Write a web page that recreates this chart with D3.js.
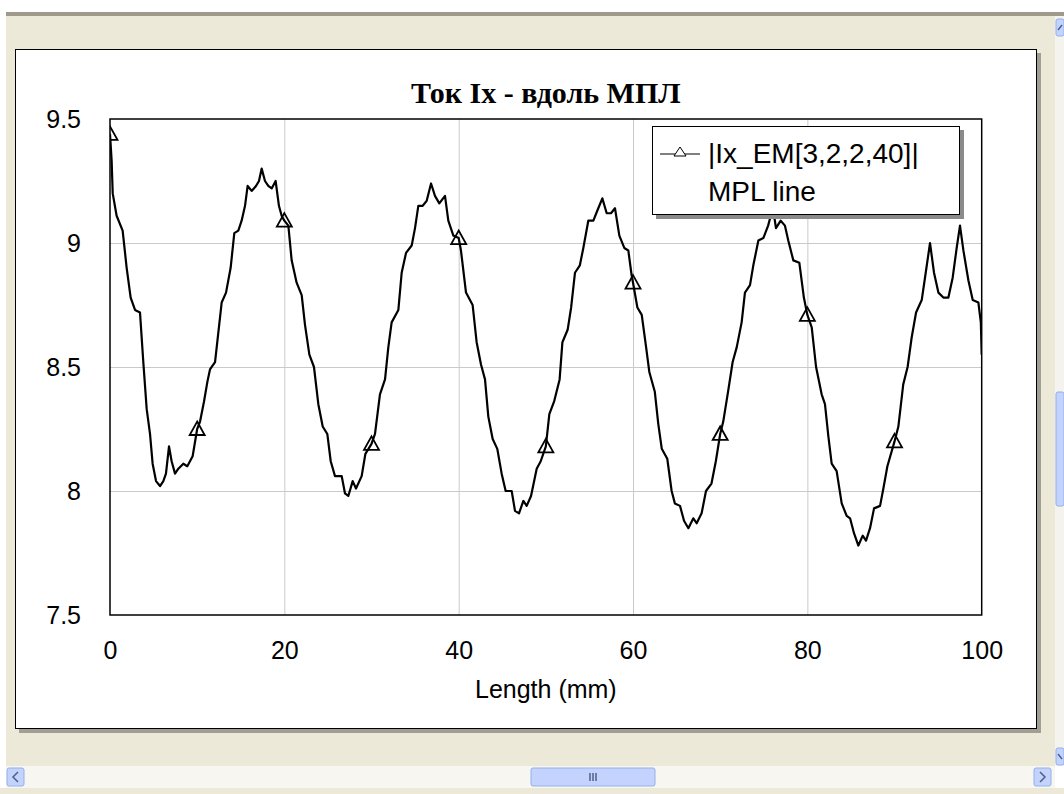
<!DOCTYPE html>
<html>
<head>
<meta charset="utf-8">
<script src="https://cdn.jsdelivr.net/npm/d3@7"></script>
<style>
  body { margin: 0; background: #fff; overflow: hidden; }
  text { font-family: "Liberation Sans", Arial, sans-serif; fill: #000; }
</style>
</head>
<body>
<div id="chart"></div>
<script>
// ---- data ----
const lengthMm = [
  0, 0.19, 0.31, 0.76, 1.45, 1.91, 2.37, 2.87, 3.44, 3.82, 4.21, 4.59, 4.89, 5.28, 5.74, 6.12, 6.42, 6.77, 7.07, 7.46,
  7.84, 8.41, 8.87, 9.48, 10, 10.33, 10.78, 11.17, 11.47, 12.05, 12.43, 12.81, 13.31, 13.84, 14.26, 14.72, 15.1, 15.49, 15.79, 16.25,
  16.75, 17.09, 17.4, 17.78, 18.16, 18.55, 19.0, 19.38, 19.69, 20, 20.46, 20.84, 21.41, 21.99, 22.37, 22.87, 23.4, 23.9, 24.4, 24.93,
  25.32, 25.81, 26.58, 26.96, 27.34, 27.84, 28.22, 28.87, 29.3, 30, 30.4, 30.97, 31.55, 31.93, 32.31, 33.08, 33.46, 33.96, 34.61, 34.99,
  35.37, 35.87, 36.33, 36.83, 37.28, 37.78, 38.43, 38.81, 39.39, 40, 40.26, 40.84, 41.6, 42.06, 42.56, 43.02, 43.4, 43.9, 44.43, 44.93,
  45.39, 46.08, 46.46, 46.92, 47.42, 47.8, 48.3, 48.95, 49.41, 50, 50.4, 50.94, 51.58, 51.9, 52.5, 52.9, 53.34, 53.9, 54.3, 54.87,
  55.45, 55.9, 56.48, 56.98, 57.47, 57.93, 58.43, 59.0, 59.46, 59.84, 60, 60.5, 61.0, 61.5, 61.87, 62.5, 62.9, 63.3, 63.93, 64.43,
  64.8, 65.39, 65.85, 66.35, 66.92, 67.3, 67.87, 68.37, 69.0, 69.5, 70, 70.35, 70.9, 71.43, 71.9, 72.46, 72.84, 73.42, 73.8, 74.38,
  74.95, 75.5, 75.8, 76.1, 76.4, 76.94, 77.43, 77.81, 78.39, 79.08, 79.6, 80, 80.5, 81.0, 81.64, 82.02, 82.41, 82.79, 83.36, 83.94,
  84.51, 84.9, 85.35, 85.85, 86.35, 86.73, 87.19, 87.65, 88.34, 88.72, 89.18, 90, 90.44, 91.0, 91.5, 91.97, 92.47, 93.12, 93.62, 94.07,
  94.53, 95.03, 95.6, 96.18, 96.67, 97.13, 97.51, 97.9, 98.47, 98.97, 99.62, 99.9, 100
];
const currentIx = [
  9.44, 9.33, 9.20, 9.11, 9.05, 8.90, 8.78, 8.73, 8.72, 8.52, 8.33, 8.23, 8.11, 8.04, 8.02, 8.04, 8.07, 8.18, 8.12, 8.07,
  8.09, 8.11, 8.10, 8.14, 8.25, 8.28, 8.36, 8.44, 8.49, 8.52, 8.64, 8.76, 8.80, 8.90, 9.04, 9.05, 9.09, 9.15, 9.23, 9.21,
  9.23, 9.25, 9.30, 9.25, 9.23, 9.22, 9.25, 9.15, 9.11, 9.09, 9.07, 8.93, 8.84, 8.79, 8.67, 8.55, 8.50, 8.35, 8.26, 8.23,
  8.12, 8.06, 8.06, 7.99, 7.98, 8.04, 8.01, 8.06, 8.15, 8.19, 8.23, 8.39, 8.45, 8.58, 8.68, 8.73, 8.88, 8.96, 8.99, 9.06,
  9.15, 9.15, 9.17, 9.24, 9.19, 9.16, 9.19, 9.09, 9.03, 9.02, 8.97, 8.80, 8.75, 8.60, 8.51, 8.45, 8.30, 8.21, 8.17, 8.07,
  8.00, 8.00, 7.92, 7.91, 7.96, 7.94, 7.98, 8.09, 8.12, 8.18, 8.31, 8.36, 8.45, 8.60, 8.65, 8.74, 8.88, 8.91, 8.98, 9.09,
  9.09, 9.13, 9.18, 9.12, 9.12, 9.14, 9.03, 8.98, 8.97, 8.87, 8.84, 8.74, 8.71, 8.58, 8.48, 8.40, 8.27, 8.17, 8.13, 8.00,
  7.95, 7.94, 7.88, 7.85, 7.89, 7.87, 7.91, 8.00, 8.03, 8.12, 8.23, 8.28, 8.40, 8.52, 8.58, 8.68, 8.80, 8.83, 8.91, 9.01,
  9.02, 9.07, 9.11, 9.13, 9.06, 9.09, 9.07, 9.01, 8.93, 8.92, 8.78, 8.71, 8.66, 8.50, 8.39, 8.35, 8.22, 8.11, 8.08, 7.95,
  7.90, 7.89, 7.83, 7.78, 7.82, 7.80, 7.85, 7.93, 7.94, 8.01, 8.10, 8.20, 8.26, 8.43, 8.50, 8.62, 8.72, 8.77, 8.89, 9.00,
  8.88, 8.80, 8.78, 8.78, 8.86, 8.98, 9.07, 8.97, 8.85, 8.77, 8.76, 8.68, 8.55
];
const markerMm = [0, 10, 20, 30, 40, 50, 60, 70, 80, 90];
const markerIx = [9.44, 8.25, 9.09, 8.19, 9.02, 8.18, 8.84, 8.23, 8.71, 8.20];
const xTicks = [0, 20, 40, 60, 80, 100];
const yTicks = [7.5, 8, 8.5, 9, 9.5];
const yTickLabels = ["7.5", "8", "8.5", "9", "9.5"];
const chartTitle = "Ток Ix - вдоль МПЛ";
const xAxisLabel = "Length (mm)";
const legendLines = ["|Ix_EM[3,2,2,40]|", "MPL line"];

// ---- layout ----
const width = 1064, height = 794;
const plot = { left: 110, right: 981.7, top: 119, bottom: 615 };

const svg = d3.select("#chart")
  .append("svg")
  .attr("width", width)
  .attr("height", height);

// window chrome (beige XP style background, scroll bars)
svg.append("rect").attr("width", width).attr("height", height).attr("fill", "#fff");
svg.append("rect").attr("x", 6).attr("y", 16).attr("width", 1049).attr("height", 750).attr("fill", "#ece9d8");
svg.append("rect").attr("x", 6).attr("y", 12).attr("width", 1058).attr("height", 4).attr("fill", "#9d9a8c");

const btnFill = "#c3d3fd", btnStroke = "#93b0ea";
function button(x0, y0, w, h) {
  svg.append("rect").attr("x", x0).attr("y", y0).attr("width", w).attr("height", h).attr("rx", 2)
    .attr("fill", btnFill).attr("stroke", btnStroke);
}
function glyph(d) {
  svg.append("path").attr("d", d).attr("fill", "none").attr("stroke", "#4d6185").attr("stroke-width", 1.5);
}
// vertical scroll bar
svg.append("rect").attr("x", 1055).attr("y", 16).attr("width", 9).attr("height", 750).attr("fill", "#f4f3ee");
button(1056, 19, 8, 17); glyph("M1058,30L1062,25");
button(1056, 392, 8, 114);
button(1056, 748, 8, 17); glyph("M1058,754L1062,759");
// horizontal scroll bar
svg.append("rect").attr("x", 6).attr("y", 766).attr("width", 1049).attr("height", 22).attr("fill", "#f7f6f0");
button(7, 768, 17, 18); glyph("M18,772L13,777L18,782");
button(531, 768, 124, 18);
glyph("M590,773V781M593,773V781M596,773V781");
button(1034, 768, 17, 18); glyph("M1040,772L1045,777L1040,782");
svg.append("rect").attr("x", 0).attr("y", 788).attr("width", width).attr("height", 6).attr("fill", "#ece9d8");

// chart panel with shadow
svg.append("rect").attr("x", 19).attr("y", 53).attr("width", 1022).attr("height", 680).attr("fill", "#a19e93");
svg.append("rect").attr("x", 15.5).attr("y", 49.5).attr("width", 1021).attr("height", 679)
  .attr("fill", "#fff").attr("stroke", "#000").attr("stroke-width", 1);

// ---- scales ----
const x = d3.scaleLinear().domain([0, 100]).range([plot.left, plot.right]);
const y = d3.scaleLinear().domain([7.5, 9.5]).range([plot.bottom, plot.top]);

// grid lines via axes
svg.append("g")
  .attr("transform", `translate(0,${plot.bottom})`)
  .call(d3.axisBottom(x).tickValues(xTicks.slice(1, -1)).tickSize(-(plot.bottom - plot.top)).tickFormat(""))
  .call(g => g.select(".domain").remove())
  .call(g => g.selectAll("line").attr("stroke", "#cacaca"));

svg.append("g")
  .attr("transform", `translate(${plot.left},0)`)
  .call(d3.axisLeft(y).tickValues(yTicks.slice(1, -1)).tickSize(-(plot.right - plot.left)).tickFormat(""))
  .call(g => g.select(".domain").remove())
  .call(g => g.selectAll("line").attr("stroke", "#cacaca"));

// tick labels
svg.append("g") // X axis
  .attr("transform", `translate(0,${plot.bottom})`)
  .call(d3.axisBottom(x).tickValues(xTicks).tickSize(0).tickPadding(26).tickFormat(d3.format("d")))
  .call(g => g.select(".domain").remove())
  .call(g => g.selectAll("text").attr("font-size", 25).attr("font-family", "Liberation Sans, Arial"));

svg.append("g") // Y axis
  .attr("transform", `translate(${plot.left},0)`)
  .call(d3.axisLeft(y).tickValues(yTicks).tickSize(0).tickPadding(29).tickFormat((d, i) => yTickLabels[i]))
  .call(g => g.select(".domain").remove())
  .call(g => g.selectAll("text").attr("font-size", 25).attr("font-family", "Liberation Sans, Arial"));

// title + axis label
svg.append("text")
  .attr("x", (plot.left + plot.right) / 2)
  .attr("y", 103)
  .attr("text-anchor", "middle")
  .style("font-family", "'Liberation Serif', 'Times New Roman', serif")
  .attr("font-weight", "bold")
  .attr("font-size", 30)
  .text(chartTitle);

svg.append("text")
  .attr("x", (plot.left + plot.right) / 2)
  .attr("y", 698)
  .attr("text-anchor", "middle")
  .attr("font-size", 25)
  .text(xAxisLabel);

// ---- the curve ----
svg.append("clipPath").attr("id", "plotClip")
  .append("rect")
  .attr("x", plot.left).attr("y", plot.top)
  .attr("width", plot.right - plot.left).attr("height", plot.bottom - plot.top);

const pts = lengthMm.map((d, i) => [d, currentIx[i]]);
const line = d3.line().x(d => x(d[0])).y(d => y(d[1]));

const plotG = svg.append("g").attr("clip-path", "url(#plotClip)");

plotG.append("path")
  .datum(pts)
  .attr("fill", "none")
  .attr("stroke", "#000")
  .attr("stroke-width", 2.2)
  .attr("stroke-linejoin", "round")
  .attr("d", line);

const tri = "M0,-7.5L7.5,6L-7.5,6Z";
plotG.selectAll(".marker")
  .data(markerMm)
  .enter()
  .append("path")
  .attr("class", "marker")
  .attr("transform", (d, i) => `translate(${x(d)},${y(markerIx[i])})`)
  .attr("d", tri)
  .attr("fill", "none")
  .attr("stroke", "#000")
  .attr("stroke-width", 1.8);

// plot frame
svg.append("rect")
  .attr("x", plot.left).attr("y", plot.top)
  .attr("width", plot.right - plot.left).attr("height", plot.bottom - plot.top)
  .attr("fill", "none").attr("stroke", "#000").attr("stroke-width", 1.5);

// ---- legend ----
const lg = svg.append("g").attr("transform", "translate(652,126)");
lg.append("rect").attr("x", 4).attr("y", 4).attr("width", 308).attr("height", 89).attr("fill", "#8a8a8a");
lg.append("rect").attr("x", 0.5).attr("y", 0.5).attr("width", 307).attr("height", 88)
  .attr("fill", "#fff").attr("stroke", "#000").attr("stroke-width", 1);
lg.append("line").attr("x1", 8).attr("x2", 48).attr("y1", 28).attr("y2", 28).attr("stroke", "#000").attr("stroke-width", 1);
lg.append("path").attr("transform", "translate(28,26)").attr("d", "M0,-5L6,4L-6,4Z")
  .attr("fill", "#fff").attr("stroke", "#000").attr("stroke-width", 1);
lg.selectAll(".lgtext")
  .data(legendLines)
  .enter()
  .append("text")
  .attr("class", "lgtext")
  .attr("x", 56)
  .attr("y", (d, i) => 37 + i * 38)
  .attr("font-size", 28)
  .text(d => d);
</script>
</body>
</html>
